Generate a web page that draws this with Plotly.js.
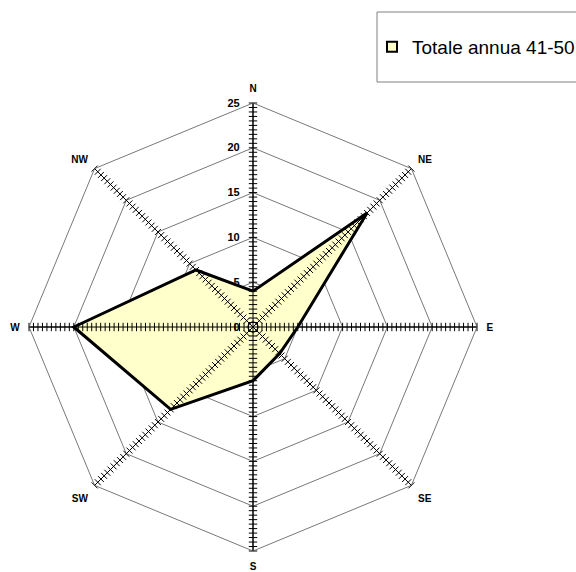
<!DOCTYPE html>
<html>
<head>
<meta charset="utf-8">
<script src="https://cdn.plot.ly/plotly-3.0.1.min.js"></script>
<style>html,body{margin:0;padding:0;background:#fff}#chart{width:576px;height:572px}</style>
</head>
<body>
<div id="chart"></div>
<script>
// Directions (categories) and series values
const directions = ["N", "NE", "E", "SE", "S", "SW", "W", "NW"];
const values = [4, 18, 5, 4.2, 6, 13, 20, 9];
const seriesName = "Totale annua 41-50";
const radialTicks = [0, 5, 10, 15, 20, 25];
const radialMax = 25;
const minorStep = 0.5;

const FONT = "Arial, 'Liberation Sans', sans-serif";

// closed polygon
const rClosed = values.concat([values[0]]);
const thClosed = directions.concat([directions[0]]);

const traces = [];
traces.push({
  type: "scatterpolar", r: rClosed, theta: thClosed, mode: "lines",
  fill: "toself", fillcolor: "#FFFFCC",
  line: {color: "#000", width: 3}, showlegend: false, hoverinfo: "skip"
});

// spokes drawn above the fill
directions.forEach(function(d){
  traces.push({type:"scatterpolar", r:[0, radialMax], theta:[d, d], mode:"lines",
    line:{color:"#000", width:1}, showlegend:false, hoverinfo:"skip"});
});

// minor tick marks along each spoke
const tr = [], tt = [], ta = [];
directions.forEach(function(d, i){
  for (let k = 1; k * minorStep <= radialMax + 1e-9; k++) {
    tr.push(k * minorStep); tt.push(d); ta.push(i * 45);
  }
});
traces.push({type:"scatterpolar", r:tr, theta:tt, mode:"markers",
  marker:{symbol:"line-ew", size:6, angle:ta, line:{color:"#000", width:1}},
  showlegend:false, hoverinfo:"skip"});

// centre circle
traces.push({type:"scatterpolar", r:[0], theta:["N"], mode:"markers",
  marker:{symbol:"circle-open", size:8, line:{color:"#000", width:1.2}},
  showlegend:false, hoverinfo:"skip"});

// legend entry
traces.push({type:"scatterpolar", r:[null], theta:["N"], mode:"markers", name:seriesName,
  marker:{symbol:"square", size:10, color:"#FFFFCC", line:{color:"#000", width:2}},
  showlegend:true, hoverinfo:"skip"});

const W = 576, H = 572;
const layout = {
  width: W, height: H,
  margin: {l:0, r:0, t:0, b:0, autoexpand: false},
  paper_bgcolor: "#fff",
  font: {family: FONT, color: "#000"},
  showlegend: true,
  legend: {x: 372/W, xanchor: "left", y: 1 - 47/H, yanchor: "middle",
    bgcolor: "rgba(0,0,0,0)", borderwidth: 0, font: {family: FONT, size: 19, color: "#000"}},
  shapes: [{type:"rect", xref:"paper", yref:"paper", x0: 377/W, x1: 1.01, y0: 1 - 82/H, y1: 1 - 12/H,
    line:{color:"#808080", width:1}, fillcolor:"rgba(0,0,0,0)"}],
  polar: {
    domain: {x: [29/W, 477/W], y: [(H-551)/H, (H-103)/H]},
    bgcolor: "#fff",
    gridshape: "linear",
    angularaxis: {
      type: "category", categoryarray: directions, direction: "clockwise", rotation: 90,
      showline: true, linecolor: "#555", linewidth: 0.8,
      showgrid: true, gridcolor: "#000", gridwidth: 1,
      ticks: "outside", ticklen: 7, tickcolor: "rgba(0,0,0,0)",
      tickfont: {family: FONT, size: 10, weight: "bold", color: "#000"}
    },
    radialaxis: {
      range: [0, radialMax], tickvals: radialTicks, ticktext: radialTicks.map(String),
      angle: 90, side: "counterclockwise", showline: false, ticks: "outside", ticklen: 9,
      tickcolor: "rgba(0,0,0,0)", tickangle: 90,
      showgrid: true, gridcolor: "#555", gridwidth: 0.8,
      tickfont: {family: FONT, size: 11, weight: "bold", color: "#000"},
      layer: "above traces"
    }
  }
};

Plotly.newPlot("chart", traces, layout, {staticPlot: true, displayModeBar: false});
</script>
</body>
</html>
